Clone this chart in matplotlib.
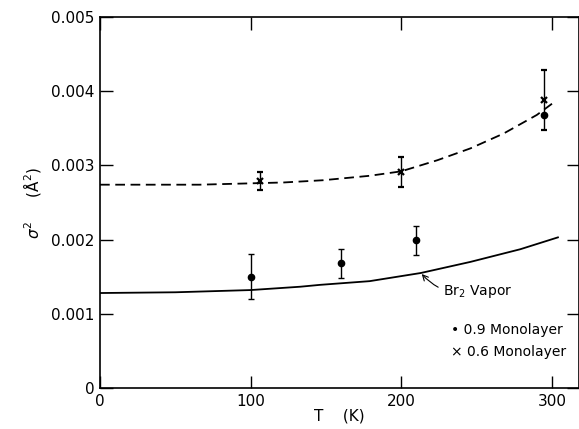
import matplotlib
matplotlib.use("Agg")
import matplotlib.pyplot as plt

plt.rcParams['font.family'] = ['DejaVu Sans']
plt.rcParams['lines.scale_dashes'] = False

# 0.9 monolayer (dots)
t_09 = [100, 160, 210, 295]
s_09 = [0.00150, 0.00168, 0.00199, 0.00368]
e_09 = [0.00030, 0.00020, 0.00020, 0.0]

# 0.6 monolayer (crosses)
t_06 = [106, 200, 295]
s_06 = [0.00279, 0.00291, 0.00388]
e_06 = [0.00012, 0.00020, 0.00040]

# dashed fit curve
t_dash = [0, 66, 122, 148, 179, 200, 224, 246, 268, 290, 302]
s_dash = [0.00274, 0.00274, 0.00277, 0.00280, 0.00286, 0.00292, 0.00307, 0.00323, 0.00343, 0.00368, 0.00386]

# Br2 vapor curve
t_vap = [0, 50, 100, 133, 146, 179, 213, 246, 279, 304]
s_vap = [0.00128, 0.00129, 0.00132, 0.001365, 0.00139, 0.00144, 0.00155, 0.00170, 0.00187, 0.00203]

xticks = [0, 100, 200, 300]
yticks = [0, 0.001, 0.002, 0.003, 0.004, 0.005]
ytick_labels = ["0", "0.001", "0.002", "0.003", "0.004", "0.005"]

fig = plt.figure(figsize=(5.79, 4.29), dpi=100)
ax = fig.add_axes([100 / 579, 41 / 429, 479 / 579, 371 / 429])

ax.plot(t_vap, s_vap, color='black', lw=1.3)
ax.plot(t_dash, s_dash, color='black', lw=1.3, linestyle=(0, (7, 4)))

ax.errorbar(t_09, s_09, yerr=e_09, fmt='o', color='black', ms=4.5,
            elinewidth=1.0, capsize=2.5, capthick=1.0)
ax.errorbar(t_06, s_06, yerr=e_06, fmt='x', color='black', ms=4.5, mew=1.6,
            elinewidth=1.0, capsize=2.5, capthick=1.0)

ax.annotate("Br$_2$ Vapor", xy=(213, 0.00155), xytext=(228, 0.00130),
            fontsize=10, va='center', ha='left',
            arrowprops=dict(arrowstyle='->', color='black', lw=0.8,
                            connectionstyle='arc3,rad=-0.3', shrinkA=2, shrinkB=1))

ax.text(233, 0.00078, "\u2022 0.9 Monolayer", fontsize=10, va='center', ha='left')
ax.text(233, 0.00049, "\u00d7 0.6 Monolayer", fontsize=10, va='center', ha='left')

ax.set_xlim(0, 318)
ax.set_ylim(0, 0.005)
ax.set_xticks(xticks)
ax.set_yticks(yticks)
ax.set_yticklabels(ytick_labels)
ax.tick_params(direction='in', length=9, width=1.0, labelsize=11,
               top=True, right=True, pad=4)
for sp in ax.spines.values():
    sp.set_linewidth(1.2)

ax.set_xlabel("T    (K)", fontsize=11, labelpad=0)
ax.set_ylabel("$\\sigma^2$     (\u00c5$^2$)", fontsize=11, labelpad=6)

fig.savefig("out.png", dpi=100)
